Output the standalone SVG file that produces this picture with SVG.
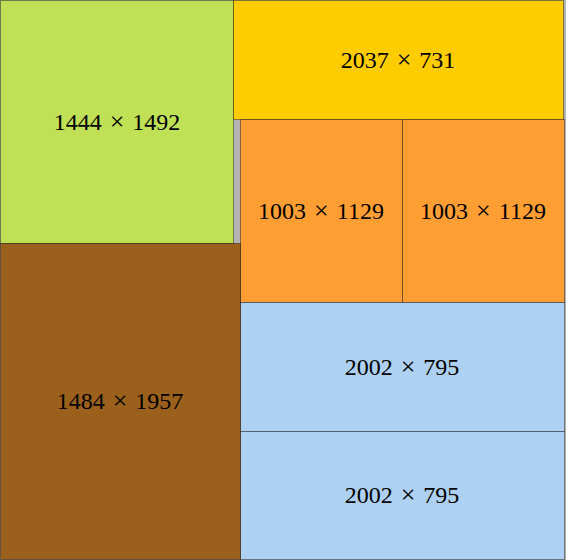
<svg xmlns="http://www.w3.org/2000/svg" width="568" height="560" viewBox="0 0 568 560">
<style>
.n{stroke:#000;stroke-opacity:0.4;stroke-width:1}
.t{font-family:"Liberation Serif","DejaVu Serif",serif;font-size:24px;fill:#000;text-anchor:middle}
.x{font-size:26px}
</style>
<rect x="0" y="0" width="566" height="560" fill="#b3b3b3"/>
<g id="node-green"><rect class="n" x="0.5" y="0.5" width="233" height="243" fill="#c0e155"/><text class="t" x="117" y="130">1444 <tspan class="x" dx="2">×</tspan> <tspan dx="2">1492</tspan></text></g>
<g id="node-yellow"><rect class="n" x="233.5" y="0.5" width="330" height="119" fill="#ffcc00"/><text class="t" x="398" y="68">2037 <tspan class="x" dx="2">×</tspan> <tspan dx="2">731</tspan></text></g>
<g id="node-orange1"><rect class="n" x="240.5" y="119.5" width="162" height="183" fill="#ff9e33"/><text class="t" x="321" y="219">1003 <tspan class="x" dx="2">×</tspan> <tspan dx="2">1129</tspan></text></g>
<g id="node-orange2"><rect class="n" x="402.5" y="119.5" width="162" height="183" fill="#ff9e33"/><text class="t" x="483" y="219">1003 <tspan class="x" dx="2">×</tspan> <tspan dx="2">1129</tspan></text></g>
<g id="node-blue1"><rect class="n" x="240.5" y="302.5" width="324" height="129" fill="#aed0f2"/><text class="t" x="402" y="375">2002 <tspan class="x" dx="2">×</tspan> <tspan dx="2">795</tspan></text></g>
<g id="node-blue2"><rect class="n" x="240.5" y="431.5" width="324" height="128" fill="#aed0f2"/><text class="t" x="402" y="503">2002 <tspan class="x" dx="2">×</tspan> <tspan dx="2">795</tspan></text></g>
<g id="node-brown"><rect class="n" x="0.5" y="243.5" width="240" height="316" fill="#9b611c"/><text class="t" x="120" y="409">1484 <tspan class="x" dx="2">×</tspan> <tspan dx="2">1957</tspan></text></g>
<g id="connectors"/>
</svg>
